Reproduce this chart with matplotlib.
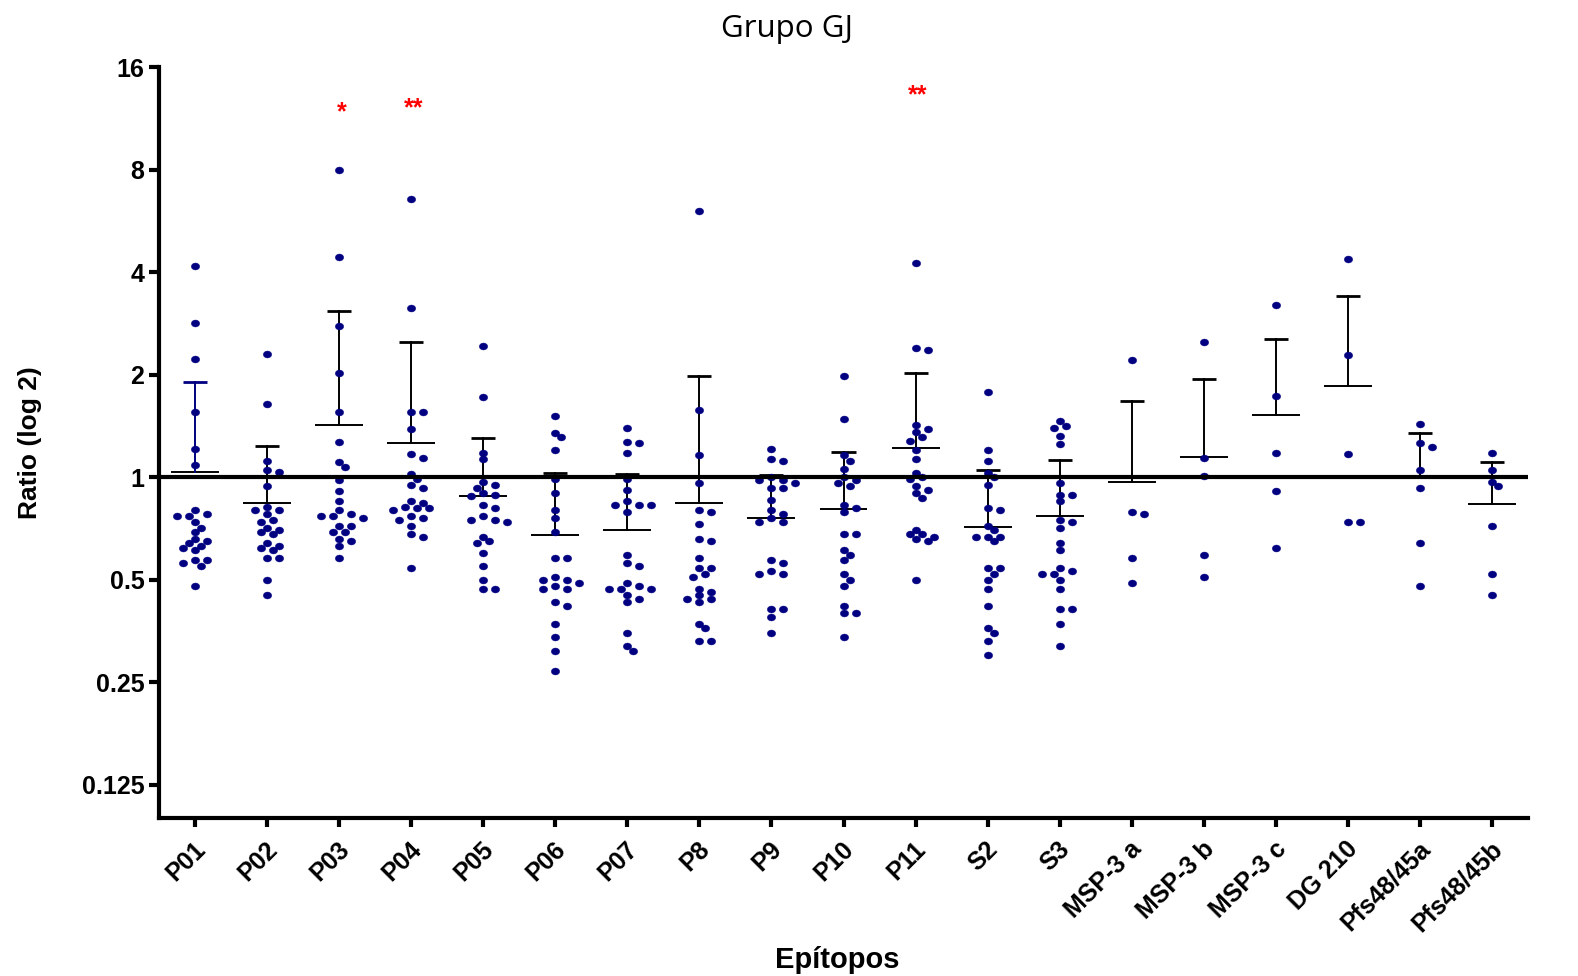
import numpy as np
import matplotlib
matplotlib.use("Agg")
import matplotlib.pyplot as plt
from matplotlib.path import Path
from matplotlib.transforms import Affine2D, ScaledTranslation

# ---- data: fold-change ratios per epitope ----
categories = ["P01", "P02", "P03", "P04", "P05", "P06", "P07", "P8", "P9", "P10",
              "P11", "S2", "S3", "MSP-3 a", "MSP-3 b", "MSP-3 c", "DG 210",
              "Pfs48/45a", "Pfs48/45b"]

p01 = [4.17, 2.83, 2.23, 1.56, 1.21, 1.09, 0.80, 0.77, 0.77, 0.78, 0.74, 0.71,
       0.69, 0.65, 0.66, 0.64, 0.63, 0.62, 0.61, 0.57, 0.56, 0.57, 0.55, 0.48]
p02 = [2.30, 1.64, 1.12, 1.04, 1.05, 0.94, 0.82, 0.80, 0.80, 0.78, 0.75, 0.74,
       0.71, 0.70, 0.69, 0.68, 0.64, 0.63, 0.62, 0.61, 0.58, 0.58, 0.50, 0.45]
p03 = [8.00, 4.44, 2.78, 2.02, 1.56, 1.27, 1.11, 1.07, 0.98, 0.91, 0.85, 0.80,
       0.78, 0.77, 0.77, 0.76, 0.72, 0.72, 0.69, 0.69, 0.66, 0.65, 0.63, 0.58]
p04 = [6.55, 3.14, 1.56, 1.56, 1.39, 1.17, 1.14, 1.02, 0.99, 0.95, 0.93, 0.85,
       0.84, 0.82, 0.81, 0.80, 0.81, 0.77, 0.76, 0.75, 0.72, 0.68, 0.67, 0.54]
p05 = [2.43, 1.72, 1.18, 1.13, 0.97, 0.95, 0.93, 0.90, 0.89, 0.88, 0.83, 0.81,
       0.77, 0.75, 0.74, 0.75, 0.67, 0.65, 0.64, 0.60, 0.55, 0.50, 0.47, 0.47]
p06 = [1.51, 1.35, 1.31, 1.20, 0.99, 0.90, 0.80, 0.76, 0.69, 0.58, 0.58, 0.51,
       0.50, 0.49, 0.50, 0.47, 0.47, 0.48, 0.43, 0.42, 0.37, 0.34, 0.31, 0.27]
p07 = [1.40, 1.26, 1.27, 1.18, 0.99, 0.92, 0.83, 0.85, 0.83, 0.83, 0.79, 0.59,
       0.56, 0.55, 0.49, 0.48, 0.47, 0.47, 0.47, 0.45, 0.44, 0.43, 0.35, 0.32, 0.31]
p8 = [6.04, 1.58, 1.16, 0.96, 0.79, 0.80, 0.73, 0.65, 0.66, 0.58, 0.54, 0.54,
      0.52, 0.51, 0.47, 0.46, 0.45, 0.44, 0.44, 0.43, 0.37, 0.36, 0.33, 0.33]
p9 = [1.21, 1.13, 1.12, 1.00, 0.98, 0.98, 0.96, 0.93, 0.93, 0.86, 0.80, 0.78,
      0.76, 0.74, 0.74, 0.57, 0.56, 0.53, 0.52, 0.52, 0.41, 0.41, 0.39, 0.35]
p10 = [1.99, 1.48, 1.16, 1.12, 1.06, 1.00, 0.98, 0.96, 0.94, 0.83, 0.81, 0.79,
       0.68, 0.68, 0.61, 0.59, 0.57, 0.52, 0.50, 0.48, 0.42, 0.40, 0.40, 0.34]
p11 = [4.25, 2.39, 2.36, 1.42, 1.39, 1.36, 1.31, 1.28, 1.20, 1.13, 1.03, 1.00,
       0.99, 0.94, 0.92, 0.90, 0.87, 0.70, 0.68, 0.68, 0.67, 0.66, 0.65, 0.50]
s2 = [1.78, 1.20, 1.12, 1.03, 1.00, 0.95, 0.81, 0.80, 0.72, 0.70, 0.67, 0.67,
      0.67, 0.65, 0.54, 0.54, 0.52, 0.50, 0.47, 0.42, 0.36, 0.35, 0.33, 0.30]
s3 = [1.46, 1.41, 1.40, 1.32, 1.25, 0.96, 0.89, 0.89, 0.85, 0.75, 0.74, 0.71,
      0.64, 0.61, 0.54, 0.53, 0.52, 0.52, 0.50, 0.47, 0.41, 0.41, 0.37, 0.32]
msp3a = [2.21, 0.79, 0.78, 0.58, 0.49]
msp3b = [2.49, 1.14, 1.01, 0.59, 0.51]
msp3c = [3.20, 1.73, 1.18, 0.91, 0.62]
dg210 = [4.37, 2.28, 1.17, 0.74, 0.74]
pfs48_45a = [1.43, 1.26, 1.23, 1.05, 0.93, 0.64, 0.48]
pfs48_45b = [1.18, 1.05, 0.97, 0.94, 0.72, 0.52, 0.45]

groups = [p01, p02, p03, p04, p05, p06, p07, p8, p9, p10, p11, s2, s3,
          msp3a, msp3b, msp3c, dg210, pfs48_45a, pfs48_45b]

# significance marks above selected epitopes
significance = {"P03": "*", "P04": "**", "P11": "**"}

yticks = [0.125, 0.25, 0.5, 1, 2, 4, 8, 16]
ytick_labels = ["0.125", "0.25", "0.5", "1", "2", "4", "8", "16"]

# ---- styling ----
NAVY = "#000080"
W, H, DPI = 1578, 976, 100
plt.rcParams["font.family"] = ["Liberation Sans", "DejaVu Sans"]

fig = plt.figure(figsize=(W / DPI, H / DPI), dpi=DPI)
ax = fig.add_axes([159 / W, 1 - 818 / H, (1528 - 159) / W, (818 - 67.1) / H])

ax.set_yscale("log", base=2)
ax.set_ylim(0.1, 16)
ax.set_xlim(-0.5, len(categories) - 0.5)

# slightly wide elliptical dot
dot = Path.unit_circle().transformed(Affine2D().scale(1.2, 1.0))


def swarm_offsets(ypix, step=6.0, wx=7.8, wy=6.3):
    """Horizontal pixel offsets so dots do not overlap."""
    order = np.argsort(-ypix, kind="stable")
    placed = []
    out = np.zeros(len(ypix))
    for i in order:
        y = ypix[i]
        cands = [0.0]
        for k in range(1, 40):
            cands += [k * step, -k * step]
        for c in cands:
            if all(((c - px) / wx) ** 2 + ((y - py) / wy) ** 2 >= 1.0
                   for px, py in placed):
                break
        out[i] = c
        placed.append((c, y))
    return out


fig.canvas.draw()
px_per_unit = ax.transData.transform((1, 1))[0] - ax.transData.transform((0, 1))[0]

for i, vals in enumerate(groups):
    v = np.asarray(vals, dtype=float)
    ypix = ax.transData.transform(np.column_stack([np.full(len(v), i), v]))[:, 1]
    xoff = swarm_offsets(ypix) / px_per_unit
    ax.plot(i + xoff, v, linestyle="none", marker=dot, markersize=6.0,
            color=NAVY, markeredgewidth=0.3, markeredgecolor=NAVY, zorder=3)

    m = v.mean()
    sd = v.std(ddof=1)
    bar_color = NAVY if i == 0 else "black"
    ax.plot([i - 0.333, i + 0.333], [m, m], color="black", lw=1.4, zorder=2,
            solid_capstyle="butt")
    ax.plot([i, i], [m, m + sd], color=bar_color, lw=1.4, zorder=2)
    ax.plot([i - 0.167, i + 0.167], [m + sd, m + sd], color=bar_color, lw=2.0,
            zorder=2, solid_capstyle="butt")

ax.axhline(1, color="black", lw=3.0, zorder=4)

# significance asterisks
star_y = {"P03": 11.75, "P04": 12.1, "P11": 13.2}
for name, mark in significance.items():
    i = categories.index(name)
    ax.text(i + 0.03, star_y[name], mark, color="red", fontsize=18,
            fontweight="bold", ha="center", va="center", zorder=5)

# axes styling
for side in ("top", "right"):
    ax.spines[side].set_visible(False)
for side in ("left", "bottom"):
    ax.spines[side].set_linewidth(3.0)

ax.set_yticks(yticks)
ax.set_yticklabels(ytick_labels)
ax.yaxis.set_minor_locator(matplotlib.ticker.NullLocator())
ax.set_xticks(range(len(categories)))
ax.set_xticklabels(categories, rotation=45, ha="right", va="top",
                   rotation_mode="anchor")
ax.tick_params(axis="y", length=7.5, width=3.0, pad=3, labelsize=18)
ax.tick_params(axis="x", length=6.5, width=3.0, pad=7, labelsize=18)
for lab in ax.get_yticklabels() + ax.get_xticklabels():
    lab.set_fontweight("bold")
shift = ScaledTranslation(-2 / DPI, 0, fig.dpi_scale_trans)
for lab in ax.get_xticklabels():
    lab.set_transform(lab.get_transform() + shift)

fig.text(30 / W, 1 - 443 / H, "Ratio (log 2)", rotation=90, fontsize=19,
         fontweight="bold", ha="center", va="center")
fig.text(837 / W, 1 - 960 / H, "Epítopos", fontsize=21, fontweight="bold",
         ha="center", va="center")
fig.text(787 / W, 1 - 37.3 / H, "Grupo GJ", fontsize=22.5,
         family=["Open Sans", "DejaVu Sans"], ha="center", va="baseline")

fig.savefig("out.png", dpi=DPI, facecolor="white")
